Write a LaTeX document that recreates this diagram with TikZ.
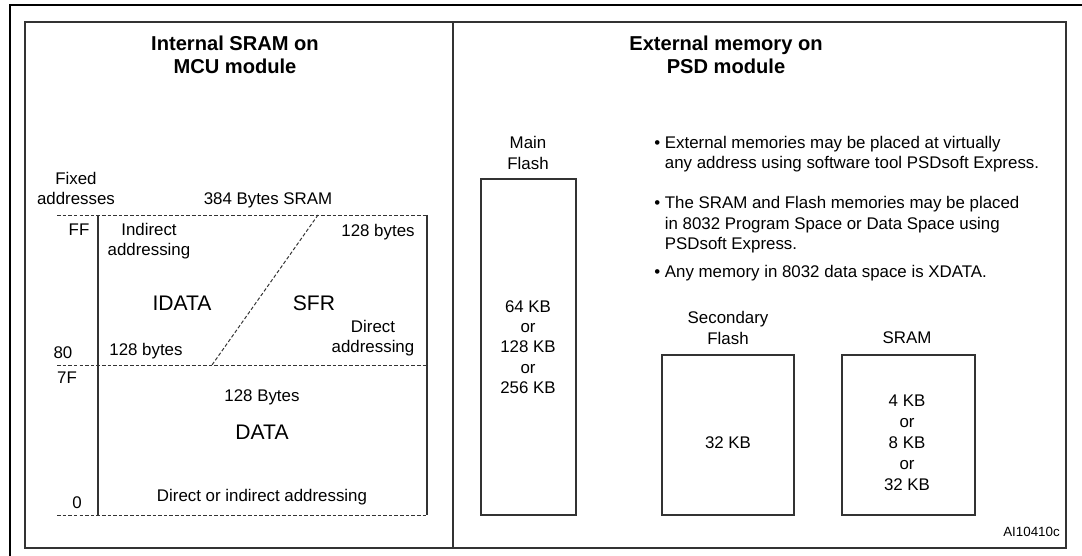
\documentclass[tikz,border=0pt]{standalone}
\usepackage{fontspec}
\setmainfont{Liberation Sans}

\begin{document}
\begin{tikzpicture}[x=0.025cm,y=-0.025cm,
  every node/.style={inner sep=0pt,font=\fontsize{12}{14.5}\selectfont},
  ttl/.style={align=center,font=\fontsize{14.3}{16.4}\selectfont\bfseries},
  big/.style={font=\fontsize{15}{17}\selectfont},
  lbl/.style={align=center},
  frm/.style={draw=black!80,line width=0.9pt},
  memln/.style={draw=black!80,line width=0.8pt},
  dsh/.style={draw=black!80,line width=0.7pt,dash pattern=on 2.5pt off 1.5pt}]
\useasboundingbox (0,0) rectangle (1082,556);
% outer frame
\draw [black,line width=1.5pt] (10,556) -- (10,5) -- (1082,5);
\draw [frm] (25,22) rectangle (1066,548);
\draw [frm] (453,22) -- (453,548);
% internal SRAM
\node [ttl] (ttlint) at (235,54.5) {Internal SRAM on\\MCU module};
\node [lbl] (fixed) at (76,188.5) {Fixed\\addresses};
\node (sram384) at (268,200) {384 Bytes SRAM};
\draw [dsh] (57,215) -- (427,215);
\draw [dsh] (57,365) -- (427,365);
\draw [dsh] (57,515) -- (427,515);
\draw [memln] (98,215) -- (98,515);
\draw [memln] (427,215) -- (427,515);
\draw [dsh] (318,215) -- (212,365);
\node (ff) at (79,230) {FF};
\node [lbl] (indir) at (149,241) {Indirect\\addressing};
\node (sfrsize) at (378,232) {128 bytes};
\node [big] (idata) at (182,303) {IDATA};
\node [big] (sfr) at (314,303) {SFR};
\node [lbl] (dir) at (373,338) {Direct\\addressing};
\node (a80) at (63,353) {80};
\node (idatasize) at (146,351) {128 bytes};
\node (a7f) at (67,378) {7F};
\node (datasize) at (262,397) {128 Bytes};
\node [big] (data) at (262,432) {DATA};
\node (a0) at (77,503) {0};
\node (dirind) at (262,497) {Direct or indirect addressing};
% external memory
\node [ttl] (ttlext) at (726,54.5) {External memory on\\PSD module};
\node [lbl] (mainlbl) at (528,153) {Main\\Flash};
\draw [memln] (481,179) rectangle (576,515);
\node [lbl] (mainsize) at (528,347) {64 KB\\or\\128 KB\\or\\256 KB};
\node [anchor=west,align=left] (bul1) at (654,154)
  {• External memories may be placed at virtually\\\hphantom{• }any address using software tool PSDsoft Express.};
\node [anchor=west,align=left] (bul2) at (654,225)
  {• The SRAM and Flash memories may be placed\\\hphantom{• }in 8032 Program Space or Data Space using\\\hphantom{• }PSDsoft Express.};
\node [anchor=west] (bul3) at (654,273) {• Any memory in 8032 data space is XDATA.};
\node [lbl] (seclbl) at (728,328) {Secondary\\Flash};
\node (sramlbl) at (907,338) {SRAM};
\draw [memln] (662,355) rectangle (794,515);
\draw [memln] (842,355) rectangle (975,515);
\node (secsize) at (728,443) {32 KB};
\node [lbl,font=\fontsize{12}{15}\selectfont] (sramsize) at (907,443) {4 KB\\or\\8 KB\\or\\32 KB};
\node [anchor=east,font=\fontsize{9.5}{11}\selectfont] (ref) at (1060,532) {AI10410c};
\end{tikzpicture}
\end{document}
